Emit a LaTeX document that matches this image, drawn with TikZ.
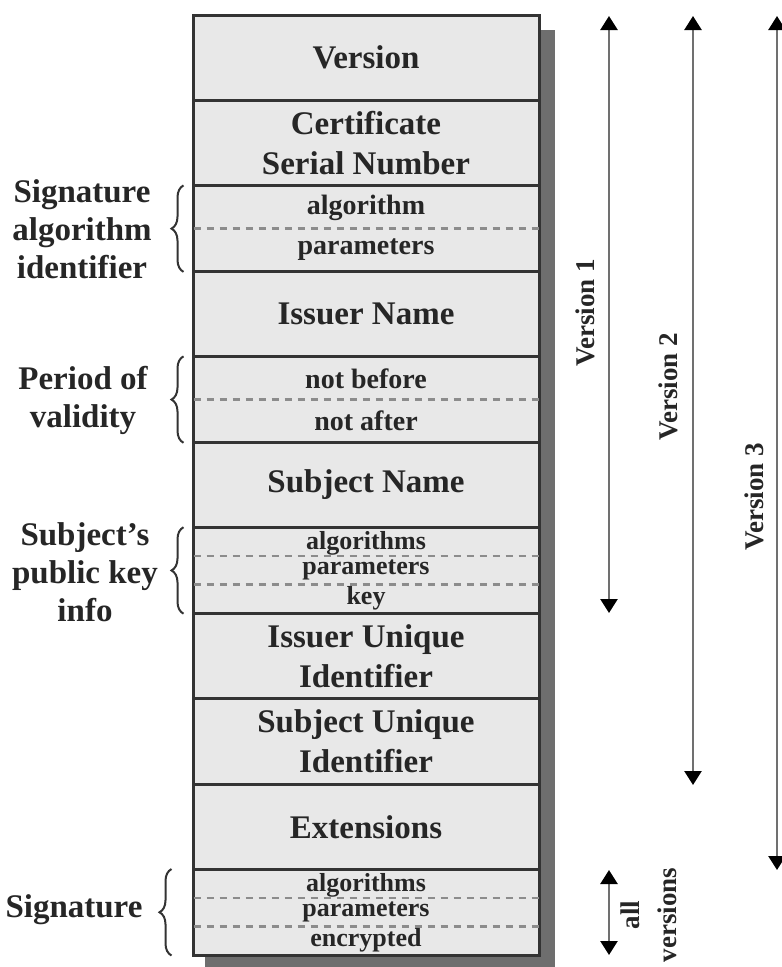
\documentclass[tikz,border=0pt]{standalone}
\usepackage{fontspec}
\setmainfont{Liberation Serif}
\usetikzlibrary{decorations.pathreplacing,arrows.meta,calc}
\definecolor{cellfill}{HTML}{E8E8E8}
\definecolor{edgec}{HTML}{333333}
\definecolor{shadowc}{HTML}{6E6E6E}
\definecolor{dashc}{HTML}{8C8C8C}
\definecolor{arrowc}{HTML}{707070}
\definecolor{inkc}{HTML}{262626}
\begin{document}
\begin{tikzpicture}[x=1pt,y=-1pt,
  cell/.style={draw=edgec, fill=cellfill, line width=3pt, minimum width=346pt, minimum height=85.45pt, inner sep=0pt, align=center, text=inkc, font=\fontsize{33}{40}\selectfont\bfseries},
  subtext/.style={text=inkc, font=\fontsize{28}{30}\selectfont\bfseries, inner sep=0pt},
  subsmall/.style={text=inkc, font=\fontsize{26}{27}\selectfont\bfseries, inner sep=0pt},
  dashline/.style={draw=dashc, line width=2.5pt, dash pattern=on 7pt off 6pt},
  verarrow/.style={draw=arrowc, line width=2.5pt, {Triangle[width=17pt,length=14pt,color=black]}-{Triangle[width=17pt,length=14pt,color=black]}},
  brc/.style={decorate, decoration={brace, amplitude=12pt}, draw=edgec, line width=2pt},
  lbl/.style={text=inkc, font=\fontsize{33}{38}\selectfont\bfseries, align=center, inner sep=0pt},
  vlbl/.style={text=inkc, font=\fontsize{27}{37}\selectfont\bfseries, rotate=90, align=center, inner sep=0pt}
]
\useasboundingbox (0,0) rectangle (782,967);
% shadow
\fill[shadowc] (205,30) rectangle (555,967);
% rows
\node[cell] (r0) at (366,57.73) {Version};
\node[cell] (r1) at (366,143.18) {Certificate\\Serial Number};
\node[cell] (r2) at (366,228.64) {};
\node[cell] (r3) at (366,314.09) {Issuer Name};
\node[cell] (r4) at (366,399.55) {};
\node[cell] (r5) at (366,485.0) {Subject Name};
\node[cell] (r6) at (366,570.45) {};
\node[cell] (r7) at (366,655.91) {Issuer Unique\\Identifier};
\node[cell] (r8) at (366,741.36) {Subject Unique\\Identifier};
\node[cell] (r9) at (366,826.82) {Extensions};
\node[cell] (r10) at (366,912.27) {};
% dashed separators
\draw[dashline] ([xshift=2pt]r2.west) -- ([xshift=-2pt]r2.east);
\draw[dashline] ([xshift=2pt]r4.west) -- ([xshift=-2pt]r4.east);
\draw[dashline] ([xshift=2pt,yshift=14.24pt]r6.west) -- ([xshift=-2pt,yshift=14.24pt]r6.east);
\draw[dashline] ([xshift=2pt,yshift=-14.24pt]r6.west) -- ([xshift=-2pt,yshift=-14.24pt]r6.east);
\draw[dashline] ([xshift=2pt,yshift=14.24pt]r10.west) -- ([xshift=-2pt,yshift=14.24pt]r10.east);
\draw[dashline] ([xshift=2pt,yshift=-14.24pt]r10.west) -- ([xshift=-2pt,yshift=-14.24pt]r10.east);
% sub texts
\node[subtext] (s2a) at (366,208) {algorithm};
\node[subtext] (s2b) at (366,250) {parameters};
\node[subtext] (s4a) at (366,379) {not before};
\node[subtext] (s4b) at (366,421) {not after};
\node[subsmall] (s6a) at (366,543) {algorithms};
\node[subsmall] (s6b) at (366,570) {parameters};
\node[subsmall] (s6c) at (366,598) {key};
\node[subsmall] (s10a) at (366,885) {algorithms};
\node[subsmall] (s10b) at (366,912) {parameters};
\node[subsmall] (s10c) at (366,940) {encrypted};
% braces
\draw[brc] ([xshift=-8pt,yshift=1pt]r2.south west) -- ([xshift=-8pt,yshift=-1pt]r2.north west);
\draw[brc] ([xshift=-8pt,yshift=1pt]r4.south west) -- ([xshift=-8pt,yshift=-1pt]r4.north west);
\draw[brc] ([xshift=-8pt,yshift=1pt]r6.south west) -- ([xshift=-8pt,yshift=-1pt]r6.north west);
\draw[brc] ([xshift=-20pt,yshift=1pt]r10.south west) -- ([xshift=-20pt,yshift=-1pt]r10.north west);
% left labels
\node[lbl] (lsig) at (82,229) {Signature\\algorithm\\identifier};
\node[lbl] (lper) at (83,400) {Period of\\validity};
\node[lbl] (lpk) at (85,572) {Subject's\\public key\\info};
\node[lbl] (lsg) at (74,910) {Signature};
% version arrows
\coordinate (v1t) at (609,16);
\coordinate (v1b) at (609,613);
\coordinate (v2t) at (693,16);
\coordinate (v2b) at (693,785);
\coordinate (v3t) at (777,16);
\coordinate (v3b) at (777,870);
\coordinate (vat) at (609,870);
\coordinate (vab) at (609,955);
\draw[verarrow] (v1t) -- (v1b);
\draw[verarrow] (v2t) -- (v2b);
\draw[verarrow] (v3t) -- (v3b);
\draw[verarrow] (vat) -- (vab);
\node[vlbl] (l1) at (585,313) {Version 1};
\node[vlbl] (l2) at (668,387) {Version 2};
\node[vlbl] (l3) at (754,497) {Version 3};
\node[vlbl] (la) at (649,915) {all\\versions};
\end{tikzpicture}
\end{document}
